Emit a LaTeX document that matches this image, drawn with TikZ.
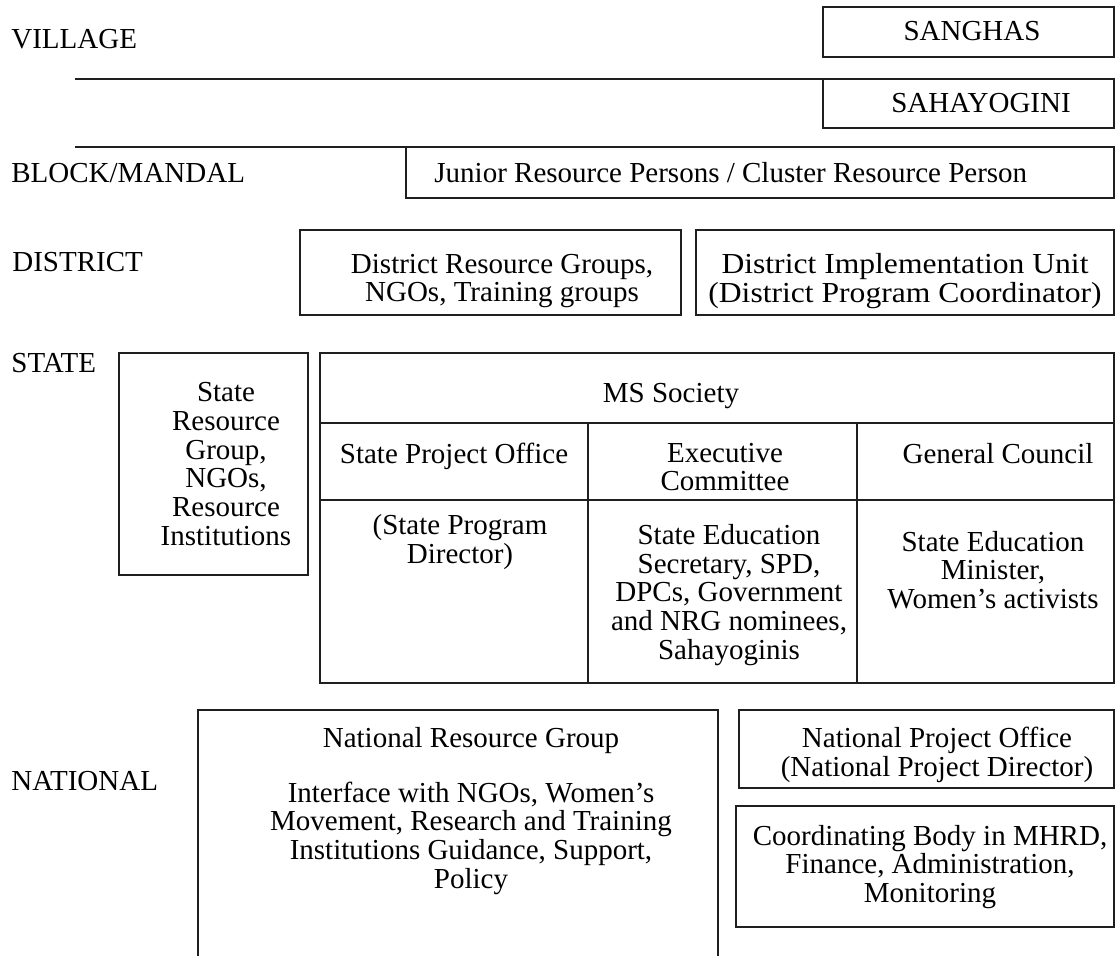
\documentclass[tikz,border=0pt]{standalone}
\usepackage{fontspec}
\setmainfont{Liberation Serif}
\usepackage{graphicx}
\usepackage{tikz}
\usetikzlibrary{positioning, calc}

\begin{document}
\begin{tikzpicture}[x=0.5pt,y=-0.5pt,draw=black!100,font=\fontsize{14.5}{14.4}\selectfont]
	\def \rightedge{1114}
	\def \lineone{79}
	\def \linetwo{147}
	\def \msleft{320}
	\def \mstop{353}
	\def \msbot{683}
	\def \msrowone{423}
	\def \msrowtwo{500}
	\def \mscolone{588}
	\def \mscoltwo{857}
	\tikzstyle{lvl-lbl}=[anchor=base west,inner sep=0pt]
	\tikzstyle{bx-txt}=[align=center,inner sep=0pt]
	\tikzstyle{bx}=[draw=black!88,line width=1.3pt]
	\useasboundingbox (0,0) rectangle (1117,956);

	% levels
	\node[lvl-lbl] (village)	at (11,49)	{VILLAGE};
	\node[lvl-lbl] (block)		at (11,183)	{BLOCK/MANDAL};
	\node[lvl-lbl] (district)	at (12,272)	{DISTRICT};
	\node[lvl-lbl] (state)		at (11,372)	{STATE};
	\node[lvl-lbl] (national)	at (11,790)	{NATIONAL};

	% village and block
	\draw[bx] (823,7) rectangle (\rightedge,57);
	\draw[bx] (75,\lineone) -- (\rightedge,\lineone);
	\draw[bx] (823,\lineone) rectangle (\rightedge,128);
	\draw[bx] (75,\linetwo) -- (\rightedge,\linetwo);
	\draw[bx] (406,\linetwo) rectangle (\rightedge,198);
	\node[bx-txt,anchor=base] 	(sanghas)	at (972,41)	{SANGHAS};
	\node[bx-txt,anchor=base] 	(sahayogini)	at (981,113)	{SAHAYOGINI};
	\node[bx-txt,anchor=base west]	(jrp)	at (434,183)	{Junior Resource Persons / Cluster Resource Person};

	% district
	\draw[bx] (300,230) rectangle (681,315);
	\draw[bx] (696,230) rectangle (\rightedge,315);
	\node[bx-txt] 	(drg)	at (502,281)	{District Resource Groups,\\NGOs, Training groups};
	\node[bx-txt] 	(diu)	at (905,281)	{\scalebox{1.09}[1]{District Implementation Unit}\\\scalebox{1.09}[1]{(District Program Coordinator)}};

	% state
	\draw[bx] (119,\mstop) rectangle (308,575);
	\node[bx-txt] 	(srg)	at (226,464)	{State\\Resource\\Group,\\NGOs,\\Resource\\Institutions};
	\draw[bx] (\msleft,\mstop) rectangle (\rightedge,\msbot);
	\draw[bx] (\msleft,\msrowone) -- (\rightedge,\msrowone)
		(\msleft,\msrowtwo) -- (\rightedge,\msrowtwo)
		(\mscolone,\msrowone) -- (\mscolone,\msbot)
		(\mscoltwo,\msrowone) -- (\mscoltwo,\msbot);
	\node[bx-txt,anchor=base] 	(ms)	at (671,402)	{MS Society};
	\node[bx-txt,anchor=base] 	(spo)	at (454,463)	{State Project Office};
	\node[bx-txt] 	(ec)	at (725,467)	{Executive\\Committee};
	\node[bx-txt,anchor=base] 	(gc)	at (998,463)	{General Council};
	\node[bx-txt] 	(spd)	at (460,542)	{(State Program\\Director)};
	\node[bx-txt] 	(ecm)	at (729,595)	{State Education\\Secretary, SPD,\\DPCs, Government\\and NRG nominees,\\Sahayoginis};
	\node[bx-txt] 	(gcm)	at (993,570)	{State Education\\Minister,\\Women's activists};

	% national
	\draw[bx] (198,956) -- (198,710) -- (718,710) -- (718,956);
	\draw[bx] (739,710) rectangle (\rightedge,788);
	\draw[bx] (736,806) rectangle (\rightedge,927);
	\node[bx-txt] 	(nrg)	at (471,811)	{National Resource Group\\[13pt]Interface with NGOs, Women's\\Movement, Research and Training\\Institutions Guidance, Support,\\Policy};
	\node[bx-txt] 	(npo)	at (937,755)	{National Project Office\\(National Project Director)};
	\node[bx-txt] 	(cb)	at (930,867)	{Coordinating Body in MHRD,\\Finance, Administration,\\Monitoring};
\end{tikzpicture}
\end{document}
